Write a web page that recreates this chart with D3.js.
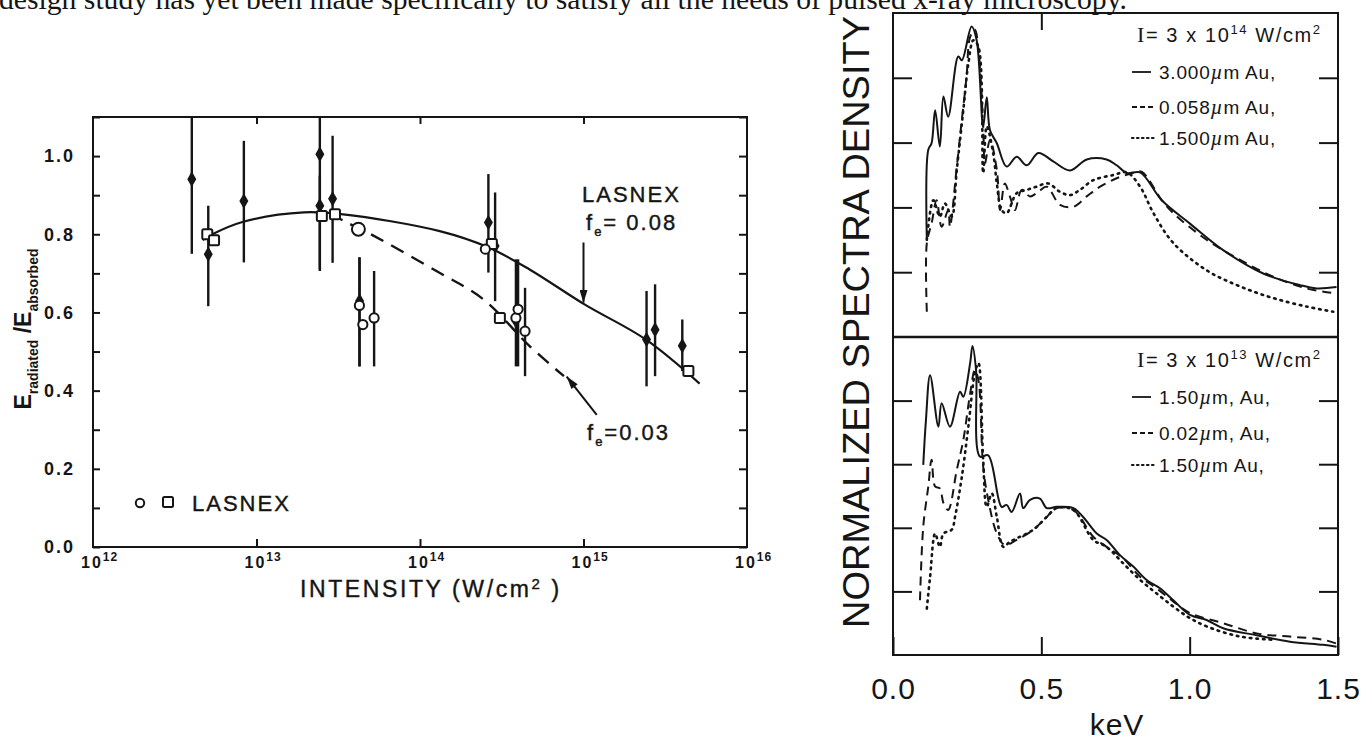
<!DOCTYPE html>
<html><head><meta charset="utf-8">
<script src="https://cdn.jsdelivr.net/npm/d3@7"></script>
<style>body{margin:0;background:#fff}svg{display:block}</style>
</head><body><svg id="c" width="1370" height="740"></svg>
<script>
// ---------------- DATA ----------------
const headerText = "design study has yet been made specifically to satisfy all the needs of pulsed x-ray microscopy.";

// Left chart: measured points [intensity W/cm2, ratio, errLow, errHigh]
const measured = [
  [4.02e12, 0.941, 0.750, 1.15],
  [5.07e12, 0.749, 0.616, 0.873],
  [8.37e12, 0.885, 0.728, 1.039],
  [2.44e13, 1.005, 0.706, 1.15],
  [2.44e13, 0.873, 0.710, 0.950],
  [2.92e13, 0.891, 0.727, 1.052],
  [4.27e13, 0.629, 0.462, 0.741],
  [2.62e14, 0.830, 0.702, 0.954],
  [2.88e14, 0.770, 0.629, 0.907],
  [3.86e14, 0.579, 0.462, 0.736],
  [2.43e15, 0.531, 0.411, 0.655],
  [2.74e15, 0.556, 0.437, 0.672],
  [4.02e15, 0.515, 0.450, 0.582]
];
// LASNEX circles [intensity, ratio, errLow, errHigh]
const lasnexCircles = [
  [4.20e13, 0.813, null, null],
  [4.26e13, 0.618, 0.462, 0.741],
  [4.47e13, 0.569, null, null],
  [5.24e13, 0.586, 0.462, 0.706],
  [2.51e14, 0.762, null, null],
  [3.86e14, 0.586, null, null],
  [3.98e14, 0.608, 0.462, 0.736],
  [4.39e14, 0.552, 0.437, 0.663]
];
// LASNEX squares [intensity, ratio]
const lasnexSquares = [
  [5.0e12, 0.800], [5.5e12, 0.785], [2.51e13, 0.847], [3.02e13, 0.851],
  [2.75e14, 0.775], [3.08e14, 0.586], [4.38e15, 0.450]
];
// LASNEX curves
const fitFe008 = [
  [4.68e12, 0.785], [5.37e12, 0.800], [8.3e12, 0.832], [1.95e13, 0.856], [3.39e13, 0.851],
  [1.32e14, 0.808], [2.63e14, 0.766], [4.68e14, 0.710], [1.02e15, 0.620], [2.4e15, 0.531], [5.13e15, 0.418]
];
const fitFe003 = [
  [2.82e13, 0.853], [3.39e13, 0.835], [5.0e13, 0.800], [1.26e14, 0.706],
  [2.45e14, 0.633], [4.68e14, 0.514], [7.59e14, 0.437]
];
const upperLimitArrow = [1.0e15, 0.779, 0.625];
const fe003Arrow = [[1.205e15, 0.338], [7.89e14, 0.436]];
const leftYTickLabels = ["0.0", "0.2", "0.4", "0.6", "0.8", "1.0"];
const leftXExponents = [12, 13, 14, 15, 16];

// Right chart: spectra [keV, normalized density]
const topSolid = [
  [0.114,1.50],[0.119,2.89],[0.130,2.99],[0.142,3.50],[0.158,2.94],[0.170,3.71],[0.186,3.40],
  [0.220,4.33],[0.232,4.27],[0.265,4.79],[0.282,4.58],[0.304,3.25],[0.316,3.70],[0.327,3.19],
  [0.350,2.99],[0.383,2.63],[0.417,2.78],[0.451,2.65],[0.490,2.84],[0.540,2.71],[0.597,2.57],
  [0.653,2.74],[0.720,2.74],[0.754,2.65],[0.788,2.53],[0.833,2.54],[0.906,2.11],[1.001,1.75],
  [1.113,1.34],[1.248,0.98],[1.372,0.80],[1.428,0.75],[1.495,0.77]
];
const topDashed = [
  [0.114,0.39],[0.114,1.45],[0.130,1.75],[0.147,2.11],[0.164,1.70],[0.186,1.96],[0.192,1.70],
  [0.215,2.63],[0.232,3.35],[0.248,4.02],[0.260,4.63],[0.276,4.74],[0.288,4.43],[0.304,3.25],
  [0.310,2.68],[0.327,3.04],[0.350,2.58],[0.361,1.96],[0.377,2.37],[0.394,2.17],[0.411,1.96],
  [0.434,2.27],[0.462,2.17],[0.490,2.24],[0.518,2.32],[0.563,2.04],[0.608,2.01],[0.653,2.17],
  [0.698,2.32],[0.754,2.45],[0.810,2.53],[0.838,2.55],[0.906,2.11],[0.945,1.91],[1.057,1.50],
  [1.170,1.19],[1.282,0.93],[1.394,0.75],[1.495,0.67]
];
const topDotted = [
  [0.114,1.50],[0.136,2.11],[0.158,1.86],[0.175,2.06],[0.198,1.86],[0.215,2.58],[0.237,3.50],
  [0.254,4.22],[0.271,4.58],[0.288,4.48],[0.304,2.53],[0.316,3.25],[0.338,2.83],[0.350,2.37],
  [0.366,1.96],[0.383,1.91],[0.417,2.22],[0.451,2.27],[0.484,2.32],[0.523,2.37],[0.563,2.24],
  [0.597,2.19],[0.630,2.27],[0.675,2.42],[0.743,2.50],[0.788,2.54],[0.833,2.32],[0.878,1.91],
  [0.945,1.45],[1.057,1.03],[1.170,0.78],[1.282,0.60],[1.394,0.47],[1.484,0.39]
];
const botSolid = [
  [0.102,2.99],[0.111,3.69],[0.125,4.40],[0.153,3.59],[0.164,3.96],[0.192,3.59],[0.226,4.14],
  [0.237,4.06],[0.260,4.59],[0.268,4.86],[0.280,4.48],[0.293,3.12],[0.321,3.14],[0.366,2.33],
  [0.383,2.36],[0.400,2.25],[0.428,2.54],[0.439,2.31],[0.462,2.44],[0.495,2.46],[0.518,2.31],
  [0.552,2.33],[0.608,2.31],[0.641,2.17],[0.687,1.91],[0.720,1.81],[0.765,1.57],[0.810,1.39],
  [0.855,1.18],[0.900,1.05],[0.945,0.86],[1.001,0.63],[1.057,0.55],[1.113,0.42],[1.226,0.31],
  [1.338,0.21],[1.450,0.16],[1.495,0.13]
];
const botDashed = [
  [0.091,0.86],[0.102,2.02],[0.119,2.65],[0.130,3.07],[0.142,2.65],[0.158,2.62],[0.170,2.39],
  [0.186,2.28],[0.215,2.91],[0.237,3.38],[0.260,4.11],[0.276,4.48],[0.288,4.32],[0.304,2.96],
  [0.321,2.44],[0.350,1.91],[0.377,1.73],[0.417,1.81],[0.473,1.97],[0.518,2.17],[0.552,2.31],
  [0.608,2.28],[0.675,1.86],[0.720,1.70],[0.776,1.52],[0.833,1.23],[0.888,1.05],[0.945,0.84],
  [1.001,0.66],[1.113,0.50],[1.226,0.34],[1.338,0.29],[1.450,0.24],[1.495,0.18]
];
const botDotted = [
  [0.114,0.73],[0.125,1.23],[0.142,1.91],[0.158,1.70],[0.170,1.91],[0.198,1.97],[0.209,2.17],
  [0.232,2.80],[0.254,3.59],[0.276,4.43],[0.288,4.59],[0.304,3.07],[0.316,2.33],[0.333,2.54],
  [0.350,2.17],[0.372,1.70],[0.394,1.78],[0.473,1.97],[0.518,2.17],[0.552,2.31],[0.608,2.28],
  [0.675,1.81],[0.720,1.70],[0.776,1.44],[0.833,1.18],[0.888,0.97],[0.945,0.76],[1.001,0.58],
  [1.057,0.45],[1.170,0.29],[1.282,0.24]
];
const rightXTickLabels = ["0.0", "0.5", "1.0", "1.5"];
const rightXTicks = [0, 0.5, 1.0, 1.5];
const panelYTicks = [1, 2, 3, 4];
const topLegend = {head: ["3", "14"], items: ["3.000", "0.058", "1.500"], tails: [" Au,", " Au,", " Au,"]};
const botLegend = {head: ["3", "13"], items: ["1.50", "0.02", "1.50"], tails: [", Au,", ", Au,", " Au,"]};

// ---------------- DRAW ----------------
const ink = "#151515";
const sans = "'Liberation Sans', Arial, sans-serif";
const svg = d3.select("#c");
svg.append("rect").attr("width", 1370).attr("height", 740).attr("fill", "#fff");

const defs = svg.append("defs");
defs.append("marker").attr("id", "arr").attr("viewBox", "0 0 16 10")
  .attr("refX", 16).attr("refY", 5).attr("markerWidth", 17).attr("markerHeight", 8)
  .attr("markerUnits", "userSpaceOnUse").attr("orient", "auto")
  .append("path").attr("d", "M0,0 L16,5 L0,10 Z").attr("fill", ink);

// header text (cut by top edge)
svg.append("text").attr("x", -1).attr("y", 9)
  .attr("font-family", "'Liberation Serif', 'Times New Roman', serif").attr("font-size", 30)
  .attr("textLength", 1128).attr("lengthAdjust", "spacingAndGlyphs")
  .attr("fill", ink).text(headerText);

// ===== Left chart =====
const xL = d3.scaleLog().domain([1e12, 1e16]).range([93, 747]);
const yL = d3.scaleLinear().domain([0, 1.1]).range([547, 117]);
const L = svg.append("g");
L.append("defs").append("clipPath").attr("id", "clipL").append("rect")
  .attr("x", 93).attr("y", 117).attr("width", 654).attr("height", 430);

const yMinor = yL.ticks(11);
const gy = L.append("g").attr("transform", "translate(93,0)")
  .call(d3.axisLeft(yL).tickValues(yMinor).tickSize(-7).tickPadding(18)
    .tickFormat(d => { const i = Math.round(d * 10); return i % 2 === 0 ? leftYTickLabels[i / 2] : ""; }));
gy.selectAll("text").attr("font-family", sans).attr("font-size", 18).attr("font-weight", "bold")
  .attr("letter-spacing", 2).attr("fill", ink);
L.append("g").attr("transform", "translate(747,0)")
  .call(d3.axisRight(yL).tickValues(yMinor).tickSize(-8).tickFormat(""));
const decInner = [1e13, 1e14, 1e15];
L.append("g").attr("transform", "translate(0,547)")
  .call(d3.axisBottom(xL).tickValues(decInner).tickSize(-8).tickFormat(""));
L.append("g").attr("transform", "translate(0,117)")
  .call(d3.axisTop(xL).tickValues(decInner).tickSize(-7).tickFormat(""));
L.selectAll(".domain").remove();
L.selectAll(".tick line").attr("stroke", ink).attr("stroke-width", 2);
L.append("rect").attr("x", 93).attr("y", 117).attr("width", 654).attr("height", 430)
  .attr("fill", "none").attr("stroke", ink).attr("stroke-width", 2);

// x tick labels 10^n
leftXExponents.forEach(e => {
  const t = L.append("text").attr("x", xL(Math.pow(10, e)) - 12).attr("y", 568)
    .attr("font-family", sans).attr("font-weight", "bold").attr("font-size", 16)
    .attr("letter-spacing", 2).attr("fill", ink);
  t.append("tspan").text("10");
  t.append("tspan").attr("dy", -7).attr("font-size", 12).attr("letter-spacing", 1).text(String(e));
});
// axis titles
const xt = L.append("text").attr("x", 300).attr("y", 597).attr("font-family", sans)
  .attr("font-size", 23).attr("letter-spacing", 2.6).attr("fill", ink)
  .attr("stroke", ink).attr("stroke-width", 0.4);
xt.append("tspan").text("INTENSITY (W/cm");
xt.append("tspan").attr("dy", -8).attr("font-size", 15).text("2");
xt.append("tspan").attr("dy", 8).text(" )");

const yt = L.append("text").attr("transform", "translate(31,329) rotate(-90)")
  .attr("text-anchor", "middle").attr("font-family", sans).attr("font-weight", "bold")
  .attr("font-size", 23).attr("fill", ink);
yt.append("tspan").text("E");
yt.append("tspan").attr("dy", 7).attr("font-size", 14).text("radiated");
yt.append("tspan").attr("dy", -7).text(" /E");
yt.append("tspan").attr("dy", 7).attr("font-size", 14).text("absorbed");

// curves
const lineL = d3.line().x(d => xL(d[0])).y(d => yL(d[1])).curve(d3.curveCatmullRom.alpha(0.5));
const plotL = L.append("g").attr("clip-path", "url(#clipL)");
plotL.append("path").attr("d", lineL(fitFe008)).attr("fill", "none").attr("stroke", ink).attr("stroke-width", 2.2);
plotL.append("path").attr("d", lineL(fitFe003)).attr("fill", "none").attr("stroke", ink)
  .attr("stroke-width", 2.4).attr("stroke-dasharray", "14,9");

// error bars
const bars = measured.map(d => [d[0], d[2], d[3]])
  .concat(lasnexCircles.filter(d => d[2] !== null).map(d => [d[0], d[2], d[3]]));
plotL.selectAll(".eb").data(bars).enter().append("line")
  .attr("x1", d => xL(d[0])).attr("x2", d => xL(d[0]))
  .attr("y1", d => yL(d[1])).attr("y2", d => yL(d[2]))
  .attr("stroke", ink).attr("stroke-width", 2.4);

// filled diamonds
plotL.selectAll(".fd").data(measured).enter().append("path")
  .attr("d", d3.symbol(d3.symbolDiamond, 70))
  .attr("transform", d => `translate(${xL(d[0])},${yL(d[1])})`).attr("fill", ink);
// open squares
plotL.selectAll(".sq").data(lasnexSquares).enter().append("rect")
  .attr("x", d => xL(d[0]) - 5).attr("y", d => yL(d[1]) - 5).attr("width", 10).attr("height", 10)
  .attr("rx", 1.5).attr("fill", "#fff").attr("stroke", ink).attr("stroke-width", 2);
// open circles
plotL.selectAll(".oc").data(lasnexCircles).enter().append("circle")
  .attr("cx", d => xL(d[0])).attr("cy", d => yL(d[1])).attr("r", (d, i) => i === 0 ? 6.5 : 4.6)
  .attr("fill", "#fff").attr("stroke", ink).attr("stroke-width", 2);

// arrows
L.append("line").attr("x1", xL(upperLimitArrow[0])).attr("x2", xL(upperLimitArrow[0]))
  .attr("y1", yL(upperLimitArrow[1])).attr("y2", yL(upperLimitArrow[2]))
  .attr("stroke", ink).attr("stroke-width", 2).attr("marker-end", "url(#arr)");
L.append("line").attr("x1", xL(fe003Arrow[0][0])).attr("y1", yL(fe003Arrow[0][1]))
  .attr("x2", xL(fe003Arrow[1][0])).attr("y2", yL(fe003Arrow[1][1]))
  .attr("stroke", ink).attr("stroke-width", 2).attr("marker-end", "url(#arr)");

// annotations
const annot = (x, y, fs) => L.append("text").attr("x", x).attr("y", y).attr("font-family", sans)
  .attr("font-size", fs).attr("letter-spacing", 2).attr("fill", ink).attr("stroke", ink).attr("stroke-width", 0.4);
annot(582, 202, 22).text("LASNEX");
const f1 = annot(586, 230, 22);
f1.append("tspan").text("f");
f1.append("tspan").attr("dy", 6).attr("font-size", 13).text("e");
f1.append("tspan").attr("dy", -6).text("= 0.08");
const f2 = annot(587, 440, 22);
f2.append("tspan").text("f");
f2.append("tspan").attr("dy", 6).attr("font-size", 13).text("e");
f2.append("tspan").attr("dy", -6).text("=0.03");
// legend
L.append("circle").attr("cx", 140).attr("cy", 503).attr("r", 4.2).attr("fill", "#fff").attr("stroke", ink).attr("stroke-width", 2);
L.append("rect").attr("x", 163).attr("y", 497).attr("width", 10).attr("height", 10).attr("rx", 1.5)
  .attr("fill", "#fff").attr("stroke", ink).attr("stroke-width", 2);
annot(192, 511, 22).text("LASNEX");

// ===== Right chart =====
const xR = d3.scaleLinear().domain([0, 1.5]).range([893, 1338]);
const yTop = d3.scaleLinear().domain([0, 5]).range([337, 13]);
const yBot = d3.scaleLinear().domain([0, 5]).range([655, 337]);
const R = svg.append("g");

[yTop, yBot].forEach(ys => {
  R.append("g").attr("transform", "translate(893,0)")
    .call(d3.axisLeft(ys).tickValues(panelYTicks).tickSize(-19).tickFormat(""));
  R.append("g").attr("transform", "translate(1338,0)")
    .call(d3.axisRight(ys).tickValues(panelYTicks).tickSize(-19).tickFormat(""));
});
R.append("g").attr("transform", "translate(0,13)")
  .call(d3.axisTop(xR).tickValues([0.5]).tickSize(-17).tickFormat(""));
const gxb = R.append("g").attr("transform", "translate(0,655)")
  .call(d3.axisBottom(xR).tickValues(rightXTicks).tickSize(-18).tickPadding(23)
    .tickFormat((d, i) => rightXTickLabels[i]));
gxb.selectAll("text").attr("font-family", sans).attr("font-size", 30).attr("letter-spacing", 1).attr("fill", ink);
R.selectAll(".domain").remove();
R.selectAll(".tick line").attr("stroke", ink).attr("stroke-width", 2);
R.append("rect").attr("x", 893).attr("y", 13).attr("width", 445).attr("height", 642)
  .attr("fill", "none").attr("stroke", ink).attr("stroke-width", 2);
R.append("line").attr("x1", 893).attr("x2", 1338).attr("y1", 337).attr("y2", 337)
  .attr("stroke", ink).attr("stroke-width", 2.5);

R.append("text").attr("x", 1117).attr("y", 735).attr("text-anchor", "middle")
  .attr("font-family", sans).attr("font-size", 30).attr("letter-spacing", 1).attr("fill", ink).text("keV");
R.append("text").attr("transform", "translate(869,322) rotate(-90)").attr("text-anchor", "middle")
  .attr("font-family", sans).attr("font-size", 37).attr("fill", ink)
  .attr("textLength", 612).attr("lengthAdjust", "spacingAndGlyphs").text("NORMALIZED SPECTRA DENSITY");

const styles = [
  {dash: null, w: 2},
  {dash: "9,6", w: 2},
  {dash: "1.6,5", w: 2.6, cap: "round"}
];
function drawSeries(ys, series) {
  const ln = d3.line().x(d => xR(d[0])).y(d => ys(d[1])).curve(d3.curveCatmullRom.alpha(0.5));
  series.forEach((s, i) => {
    R.append("path").attr("d", ln(s)).attr("fill", "none").attr("stroke", ink)
      .attr("stroke-width", styles[i].w).attr("stroke-dasharray", styles[i].dash)
      .attr("stroke-linecap", styles[i].cap || "butt").attr("stroke-linejoin", "round");
  });
}
drawSeries(yTop, [topSolid, topDashed, topDotted]);
drawSeries(yBot, [botSolid, botDashed, botDotted]);

function legend(leg, yHead, yRows) {
  const h = R.append("text").attr("x", 1137).attr("y", yHead + 7).attr("font-family", sans)
    .attr("font-size", 20).attr("letter-spacing", 1.6).attr("fill", ink);
  h.append("tspan").attr("font-family", "'Liberation Serif', serif").attr("font-size", 22).text("I");
  h.append("tspan").text("= " + leg.head[0] + "  x  10");
  h.append("tspan").attr("dy", -8).attr("font-size", 13).text(leg.head[1]);
  h.append("tspan").attr("dy", 8).text(" W/cm");
  h.append("tspan").attr("dy", -8).attr("font-size", 13).text("2");
  yRows.forEach((y, i) => {
    R.append("line").attr("x1", 1132).attr("x2", i === 0 ? 1151 : 1156).attr("y1", y).attr("y2", y)
      .attr("stroke", ink).attr("stroke-width", i === 2 ? 2.2 : 1.8)
      .attr("stroke-dasharray", i === 0 ? null : (i === 1 ? "5,3" : "1.5,3.5"))
      .attr("stroke-linecap", i === 2 ? "round" : "butt");
    const t = R.append("text").attr("x", 1159).attr("y", y + 7).attr("font-family", sans)
      .attr("font-size", 19).attr("letter-spacing", 0.8).attr("fill", ink);
    t.append("tspan").text(leg.items[i]);
    t.append("tspan").attr("font-style", "italic").attr("font-family", "'Liberation Serif', serif").attr("font-size", 21).text("\u00b5");
    t.append("tspan").text("m" + leg.tails[i]);
  });
}
legend(topLegend, 35, [72, 107, 138]);
legend(botLegend, 360, [397, 433, 465]);
</script></body></html>
